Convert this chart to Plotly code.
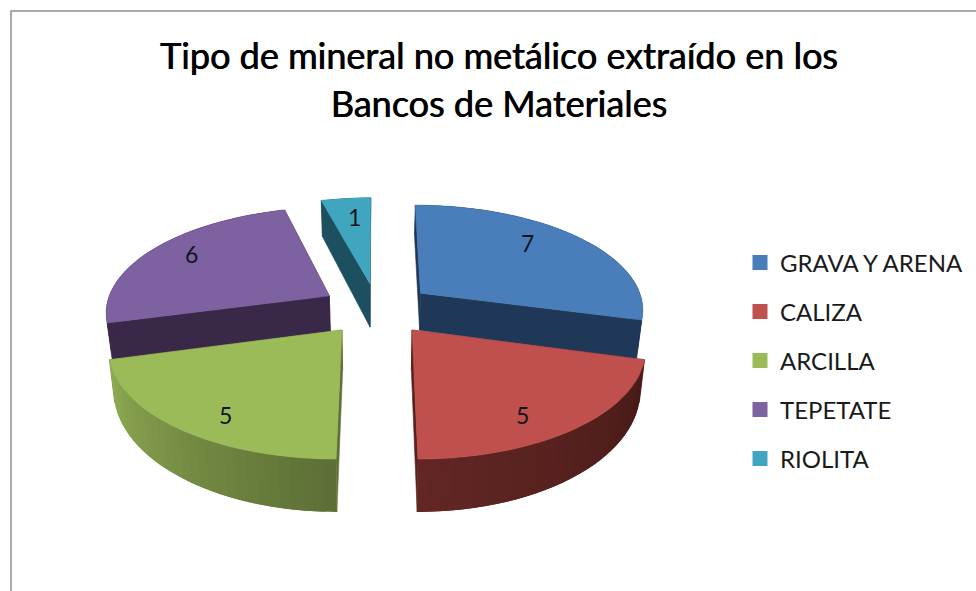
import math
import plotly.graph_objects as go

# Banks of materials by non-metallic mineral type
categories = ["GRAVA Y ARENA", "CALIZA", "ARCILLA", "TEPETATE", "RIOLITA"]
values = [7, 5, 5, 6, 1]
top_colors = ["#4a7ebb", "#bf504d", "#9bbb59", "#7e61a1", "#40a6c0"]
cut_colors = ["#1f3858", "#5a201d", "#5f7136", "#3a2848", "#1c4f60"]
# Shade of the rim from its clockwise start to its clockwise end
rim_colors = [
    ("#1f3858", "#1f3858"),
    ("#471a17", "#622724"),
    ("#5c6e35", "#90ad53"),
    ("#3a2848", "#3a2848"),
    ("#1c4f60", "#1c4f60"),
]
title_lines = ["Tipo de mineral no metálico extraído en los", "Bancos de Materiales"]

# Projection of the tilted, exploded pie onto page pixels
CX, CY = 377.0, 308.7
SCALE_X, SCALE_Y = 224.0, 104.4
PERSPECTIVE = 0.14
RIM_BASE, RIM_PERSPECTIVE = 38.3, 0.231
EXPLODE = 0.25
RIM_BOOST = [1.0, 1.0, 1.0, 0.95, 1.2]
LABEL_RADIUS = [0.76, 0.81, 0.82, 0.81, 0.76]
LABEL_TURN = [-7.5, 6.5, -5.0, 3.0, 1.5]


def project(x, y, down=0.0, boost=1.0):
    w = 1 + PERSPECTIVE * y
    sx = CX + SCALE_X * x / (w * (1 + 0.02 * down))
    sy = CY - SCALE_Y * y / w + down * boost * RIM_BASE / (1 + RIM_PERSPECTIVE * y)
    return sx, sy


def polar(angle, radius=1.0):
    a = math.radians(angle)
    return radius * math.sin(a), radius * math.cos(a)


def mix(c0, c1, t):
    a = [int(c0[i:i + 2], 16) for i in (1, 3, 5)]
    b = [int(c1[i:i + 2], 16) for i in (1, 3, 5)]
    return "#" + "".join(f"{round(p + (q - p) * t):02x}" for p, q in zip(a, b))


def face(points, color, edge=0.6):
    xs, ys = zip(*points)
    return go.Scatter(
        x=list(xs) + [xs[0]], y=list(ys) + [ys[0]], mode="lines", fill="toself",
        fillcolor=color, line=dict(color=color, width=edge),
        hoverinfo="skip", showlegend=False,
    )


total = sum(values)
spans = []
start = 0.0
for v in values:
    spans.append((start, start + 360.0 * v / total))
    start = spans[-1][1]

faces = {}
labels = []
for i, (a0, a1) in enumerate(spans):
    mid = (a0 + a1) / 2
    ox, oy = polar(mid, EXPLODE)
    boost = RIM_BOOST[i]
    steps = max(4, int((a1 - a0) / 2.5))
    angles = [a0 + (a1 - a0) * k / steps for k in range(steps + 1)]
    rim = [(ox + polar(a)[0], oy + polar(a)[1]) for a in angles]
    traces = []
    # Radial cut faces first, then the rim, then the top surface
    for px, py in (rim[0], rim[-1]):
        traces.append(face([project(ox, oy), project(px, py), project(px, py, 1, boost),
                            project(ox, oy, 1, boost)], cut_colors[i]))
    # Each rim band runs under the next one so no seams show between them
    for k in range(steps):
        shade = mix(rim_colors[i][0], rim_colors[i][1], (k + 0.5) / steps)
        (p, q), (r, s) = rim[k], rim[min(k + 2, steps)]
        traces.append(face([project(p, q), project(r, s), project(r, s, 1, boost),
                            project(p, q, 1, boost)], shade, edge=0))
    traces.append(face([project(ox, oy)] + [project(p, q) for p, q in rim], top_colors[i]))
    faces[i] = traces
    lx, ly = polar(mid + LABEL_TURN[i], LABEL_RADIUS[i])
    sx, sy = project(ox + lx, oy + ly)
    labels.append(dict(x=sx, y=sy, text=str(values[i]), showarrow=False,
                       font=dict(family="Lato", size=23, color="#10141c")))

fig = go.Figure()
# Painter's order: back slices before front slices
for i in (4, 3, 0, 2, 1):
    fig.add_traces(faces[i])

# Legend entries, one group per mineral so the row gap can be opened up
for name, color in zip(categories, top_colors):
    fig.add_trace(go.Scatter(
        x=[None], y=[None], mode="markers", name=name, legendgroup=name,
        marker=dict(symbol="square", size=15, color=color),
    ))

fig.update_layout(
    width=976, height=591, autosize=False,
    margin=dict(l=0, r=0, t=0, b=0),
    paper_bgcolor="white", plot_bgcolor="white",
    title=dict(
        text=f'<span style="font-size:36px">{title_lines[0]}<br>{title_lines[1]}</span>',
        x=0.511, xanchor="center", xref="paper", y=0.883, yanchor="top",
        # A hairline offset copy gives the title a semi-bold weight
        font=dict(family="Lato", size=37, color="#000000", shadow="0.7px 0 0 #000000"),
    ),
    xaxis=dict(range=[0, 976], visible=False, fixedrange=True),
    yaxis=dict(range=[591, 0], visible=False, fixedrange=True),
    legend=dict(
        x=740 / 976, y=1 - 240.5 / 591, xanchor="left", yanchor="top",
        font=dict(family="Lato", size=24, color="#1a1a1a"),
        tracegroupgap=14.8, bgcolor="rgba(0,0,0,0)", borderwidth=0,
        traceorder="grouped",
    ),
    annotations=labels,
    shapes=[dict(type="path", path="M 11 591 L 11 11 L 976 11", xref="x", yref="y",
                 line=dict(color="#8f8f8f", width=1.5), layer="below")],
)

fig.write_html("out.html")
